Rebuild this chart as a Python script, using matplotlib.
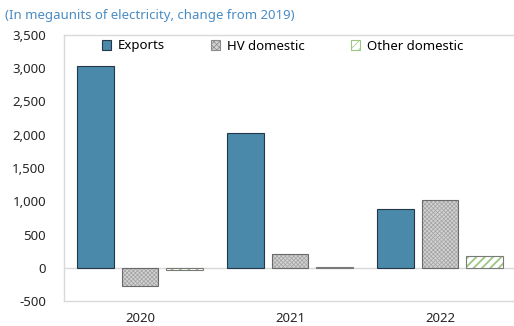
import matplotlib.pyplot as plt
import matplotlib.patches as mpatches
import numpy as np

years = ['2020', '2021', '2022']
series = ['Exports', 'HV domestic', 'Other domestic']
exports = [3040, 2025, 890]
hv_domestic = [-280, 200, 1025]
other_domestic = [-40, 15, 175]

plt.rcParams['font.family'] = ['Noto Sans', 'DejaVu Sans']
plt.rcParams['hatch.linewidth'] = 0.5

fig = plt.figure(figsize=(5.14, 3.26), dpi=100)
ax = fig.add_axes([64 / 514, 25 / 326, 453 / 514, 266 / 326])

x = np.arange(len(years))
step = 0.297
w = 0.245

hv_face, hv_hatch = '#d2d2d2', '#a2a2a2'
ot_hatch = '#9cc682'


def thick_hatch(bars, lw):
    for b in bars:
        if hasattr(b, 'set_hatch_linewidth'):
            b.set_hatch_linewidth(lw)


# exports: solid blue
ax.bar(x - step, exports, w, color='#4a89aa', edgecolor='#243848', linewidth=0.8, zorder=3)

# HV domestic: grey fine crosshatch
ax.bar(x, hv_domestic, w, color=hv_face, edgecolor=hv_hatch, hatch='xxxxxxxx', linewidth=0, zorder=3)
ax.bar(x, hv_domestic, w, fill=False, edgecolor='#6a6a6a', linewidth=0.8, zorder=4)

# other domestic: green diagonal
ob = ax.bar(x + step, other_domestic, w, color='white', edgecolor=ot_hatch, hatch='////', linewidth=0, zorder=3)
thick_hatch(ob, 1.3)
ax.bar(x + step, other_domestic, w, fill=False, edgecolor='#7a7a7a', linewidth=0.8, zorder=4)

ax.set_xlim(-0.507, 2.513)
ax.set_ylim(-500, 3500)
ax.set_yticks(np.arange(-500, 3501, 500))
ax.set_yticklabels([f'{v:,}' for v in range(-500, 3501, 500)])
ax.set_xticks(x)
ax.set_xticklabels(years)
ax.tick_params(axis='both', length=0, labelsize=9.5, colors='#262626')
ax.tick_params(axis='y', pad=13)
ax.tick_params(axis='x', pad=8)
ax.axhline(0, color='#d9d9d9', linewidth=1, zorder=2)
for s in ax.spines.values():
    s.set_color('#d9d9d9')
    s.set_linewidth(1)

handles = [
    mpatches.Patch(facecolor='#4a89aa', edgecolor='#243848', linewidth=0.8),
    mpatches.Patch(facecolor=hv_face, edgecolor='#8a8a8a', hatch='xxxxxx', linewidth=0.8),
    mpatches.Patch(facecolor='white', edgecolor=ot_hatch, hatch='////', linewidth=0.8),
]
thick_hatch(handles[2:], 1.0)
ax.legend(handles, series, ncol=3, frameon=False, loc='center left',
          bbox_to_anchor=(102 / 514, (326 - 46) / 326), bbox_transform=fig.transFigure,
          fontsize=9.5, handlelength=0.7, handleheight=0.7, handletextpad=0.5,
          columnspacing=3.5, borderaxespad=0, borderpad=0)

fig.text(5 / 514, (326 - 15) / 326, '(In megaunits of electricity, change from 2019)',
         color='#4a8cc4', fontsize=9.5, va='center', ha='left')

fig.savefig('out.png', dpi=100)
